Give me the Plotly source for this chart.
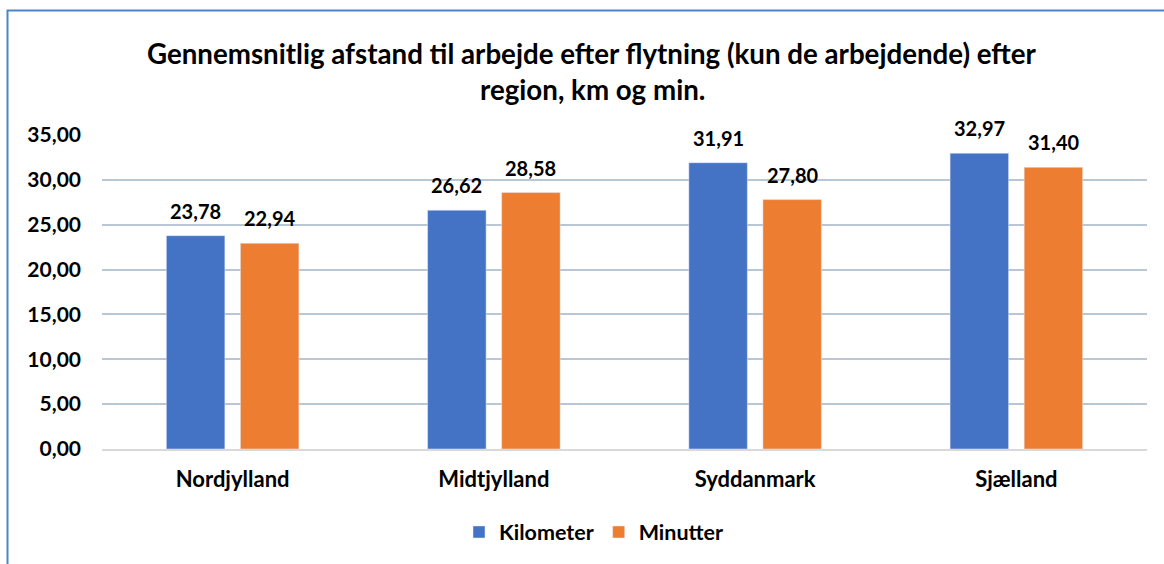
import plotly.graph_objects as go

regions = ['Nordjylland', 'Midtjylland', 'Syddanmark', 'Sjælland']
km = [23.78, 26.62, 31.91, 32.97]
minutes = [22.94, 28.58, 27.80, 31.40]
series_names = ['Kilometer', 'Minutter']
title_lines = ['Gennemsnitlig afstand til arbejde efter flytning (kun de arbejdende) efter',
               'region, km og min.']

W, H = 1164, 564
L, R, T, B = 102, 17, 135, 115
pw, ph = W - L - R, H - T - B

def px_x(x):
    return (x - L) / pw

def px_y(y):
    return (H - B - y) / ph

blue = '#4472C4'
orange = '#ED7D31'
font = 'Lato, Calibri, sans-serif'

fig = go.Figure()
fig.add_trace(go.Bar(x=regions, y=km, name=series_names[0], marker_color=blue))
fig.add_trace(go.Bar(x=regions, y=minutes, name=series_names[1], marker_color=orange))

# data labels
for vals, shift in ((km, -37), (minutes, 37)):
    for r, v in zip(regions, vals):
        fig.add_annotation(x=r, y=v, xref='x', yref='y', xshift=shift, yshift=11,
                           yanchor='bottom', showarrow=False,
                           text=f'{v:.2f}'.replace('.', ','),
                           font=dict(family=font, size=20, color='black', weight='bold'))

# title, two lines
for line, py in zip(title_lines, (54, 89)):
    fig.add_annotation(x=(592 - L) / pw, y=px_y(py), xref='paper', yref='paper',
                       showarrow=False, text=line, xanchor='center', yanchor='middle',
                       font=dict(family=font, size=27.7, color='black', weight='bold'))

# chart frame
fig.add_shape(type='rect', xref='paper', yref='paper',
              x0=px_x(7.5), x1=px_x(W + 10), y0=px_y(H + 10), y1=px_y(10.5),
              line=dict(color='#4a86c5', width=2), fillcolor='rgba(0,0,0,0)', layer='below')

fig.update_layout(
    width=W, height=H,
    margin=dict(l=L, r=R, t=T, b=B),
    paper_bgcolor='white', plot_bgcolor='white',
    separators=',.',
    bargap=0.433, bargroupgap=0.21,
    font=dict(family=font, color='black'),
    showlegend=True,
    legend=dict(orientation='h', x=(594 - L) / pw, xanchor='center', y=px_y(532), yanchor='middle',
                font=dict(family=font, size=21.5, color='black', weight='bold'),
                itemwidth=30, tracegroupgap=0),
)
fig.update_yaxes(range=[0, 35], dtick=5, tickformat='.2f', gridcolor='#b9c6d6', gridwidth=1.5,
                 zeroline=False, showline=False, ticklabelstandoff=20,
                 tickfont=dict(family=font, size=21, color='black', weight='bold'))
fig.update_xaxes(showline=True, linecolor='#d9d9d9', linewidth=1.5, ticklabelstandoff=10,
                 tickfont=dict(family=font, size=22, color='black', weight='bold'))

fig.write_html('out.html', config={'displayModeBar': False},
               post_script="document.body.style.margin='0';")
